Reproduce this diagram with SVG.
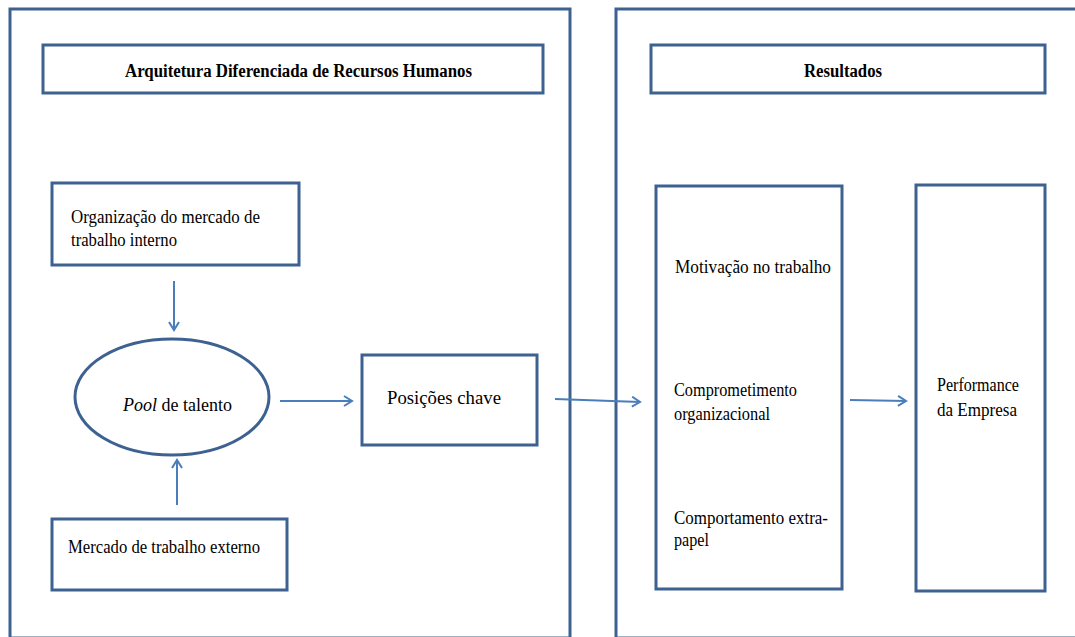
<svg xmlns="http://www.w3.org/2000/svg" width="1075" height="637" viewBox="0 0 1075 637">
<style>
.box{fill:#fff;stroke:#3d6291;stroke-width:3}
.c{stroke:#4a7ebb;stroke-width:2;fill:none}
</style>
<defs>
<marker id="ah" markerWidth="12" markerHeight="12" refX="10" refY="6" orient="auto" markerUnits="userSpaceOnUse">
<path d="M2,1 L10,6 L2,11" fill="none" stroke="#4a7ebb" stroke-width="2"/>
</marker>
</defs>
<rect width="1075" height="637" fill="#fff"/>
<g id="panel-left"><rect class="box" x="10" y="9" width="560" height="629"/></g>
<g id="panel-right"><rect class="box" x="616" y="9" width="480" height="629"/></g>
<g id="title-left"><rect class="box" x="43" y="45" width="500" height="48"/>
<text x="125" y="77" font-family="Liberation Serif" font-size="18" font-weight="bold" textLength="347" lengthAdjust="spacingAndGlyphs">Arquitetura Diferenciada de Recursos Humanos</text></g>
<g id="title-right"><rect class="box" x="651" y="45" width="394" height="48"/>
<text x="804" y="77" font-family="Liberation Serif" font-size="18" font-weight="bold" textLength="78" lengthAdjust="spacingAndGlyphs">Resultados</text></g>
<g id="org"><rect class="box" x="52" y="183" width="247" height="82"/>
<text x="71" y="223" font-family="Liberation Serif" font-size="19" textLength="189" lengthAdjust="spacingAndGlyphs">Organização do mercado de</text>
<text x="71" y="246" font-family="Liberation Serif" font-size="19" textLength="106" lengthAdjust="spacingAndGlyphs">trabalho interno</text></g>
<g id="pool"><ellipse class="box" cx="172" cy="397" rx="97" ry="58"/>
<text x="123" y="411" font-family="Liberation Serif" font-size="18"><tspan font-style="italic">Pool</tspan> de talento</text></g>
<g id="posicoes"><rect class="box" x="362" y="355" width="175" height="90"/>
<text x="387" y="404" font-family="Liberation Serif" font-size="19" textLength="114" lengthAdjust="spacingAndGlyphs">Posições chave</text></g>
<g id="externo"><rect class="box" x="52" y="519" width="235" height="71"/>
<text x="68" y="553" font-family="Liberation Serif" font-size="19" textLength="192" lengthAdjust="spacingAndGlyphs">Mercado de trabalho externo</text></g>
<g id="resultados"><rect class="box" x="656" y="186" width="186" height="403"/>
<text x="675" y="273" font-family="Liberation Serif" font-size="19" textLength="156" lengthAdjust="spacingAndGlyphs">Motivação no trabalho</text>
<text x="674" y="396" font-family="Liberation Serif" font-size="19" textLength="123" lengthAdjust="spacingAndGlyphs">Comprometimento</text>
<text x="674" y="420" font-family="Liberation Serif" font-size="19" textLength="96" lengthAdjust="spacingAndGlyphs">organizacional</text>
<text x="674" y="524" font-family="Liberation Serif" font-size="19" textLength="154" lengthAdjust="spacingAndGlyphs">Comportamento extra-</text>
<text x="674" y="546" font-family="Liberation Serif" font-size="19" textLength="35" lengthAdjust="spacingAndGlyphs">papel</text></g>
<g id="performance"><rect class="box" x="916" y="185" width="129" height="406"/>
<text x="937" y="391" font-family="Liberation Serif" font-size="19" textLength="82" lengthAdjust="spacingAndGlyphs">Performance</text>
<text x="937" y="416" font-family="Liberation Serif" font-size="19" textLength="80" lengthAdjust="spacingAndGlyphs">da Empresa</text></g>
<g id="connectors">
<line class="c" x1="174" y1="281" x2="174" y2="330" marker-end="url(#ah)"/>
<line class="c" x1="177" y1="505" x2="177" y2="460" marker-end="url(#ah)"/>
<line class="c" x1="280" y1="401" x2="352" y2="401" marker-end="url(#ah)"/>
<line class="c" x1="555" y1="399" x2="640" y2="402" marker-end="url(#ah)"/>
<line class="c" x1="850" y1="400" x2="906" y2="401" marker-end="url(#ah)"/>
</g>
</svg>
